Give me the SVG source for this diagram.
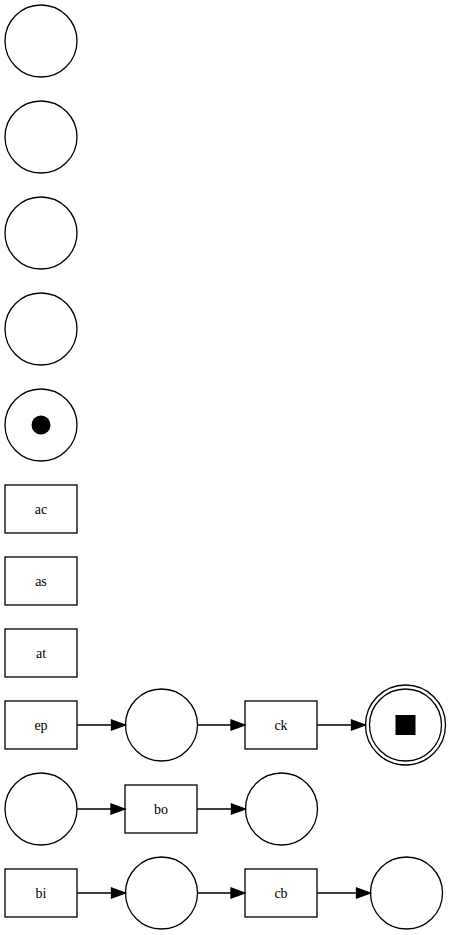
<svg xmlns="http://www.w3.org/2000/svg" width="453" height="935" viewBox="0 0 453 935">
<style>
.p{fill:#fff;stroke:#000;stroke-width:1.3}
.t{fill:#fff;stroke:#000;stroke-width:1.3}
.l{font-family:"Liberation Serif","Times New Roman",serif;font-size:14px;text-anchor:middle;fill:#000}
.e{stroke:#000;stroke-width:1.3;fill:none}
.h{fill:#000;stroke:#000;stroke-width:1.3}
</style>
<rect width="453" height="935" fill="#fff"/>
<g id="p1"><circle class="p" cx="41" cy="41" r="36"/></g>
<g id="p2"><circle class="p" cx="41" cy="137" r="36"/></g>
<g id="p3"><circle class="p" cx="41" cy="233" r="36"/></g>
<g id="p4"><circle class="p" cx="41" cy="329" r="36"/></g>
<g id="p5"><circle class="p" cx="41" cy="425" r="36"/><circle cx="41" cy="425" r="9.5" fill="#000"/></g>
<g id="ac"><rect class="t" x="5" y="485" width="72" height="48"/><text class="l" x="41" y="514">ac</text></g>
<g id="as"><rect class="t" x="5" y="557" width="72" height="48"/><text class="l" x="41" y="586">as</text></g>
<g id="at"><rect class="t" x="5" y="629" width="72" height="48"/><text class="l" x="41" y="658">at</text></g>
<g id="ep"><rect class="t" x="5" y="701" width="72" height="48"/><text class="l" x="41" y="730">ep</text></g>
<g id="p6"><circle class="p" cx="161.5" cy="725" r="36"/></g>
<g id="ck"><rect class="t" x="245" y="701" width="72" height="48"/><text class="l" x="281" y="730">ck</text></g>
<g id="pend"><circle class="p" cx="405.5" cy="725" r="40"/><circle class="p" cx="405.5" cy="725" r="36"/><rect x="395.5" y="715" width="20" height="20" fill="#000"/></g>
<g id="p7"><circle class="p" cx="41" cy="809" r="36"/></g>
<g id="bo"><rect class="t" x="125" y="785" width="72" height="48"/><text class="l" x="161" y="814">bo</text></g>
<g id="p8"><circle class="p" cx="281.5" cy="809" r="36"/></g>
<g id="bi"><rect class="t" x="5" y="869" width="72" height="48"/><text class="l" x="41" y="898">bi</text></g>
<g id="p9"><circle class="p" cx="161.5" cy="893" r="36"/></g>
<g id="cb"><rect class="t" x="245" y="869" width="72" height="48"/><text class="l" x="281" y="898">cb</text></g>
<g id="p10"><circle class="p" cx="406.5" cy="893" r="36"/></g>
<g id="edges">
<path class="e" d="M77,725H112"/><polygon class="h" points="125.5,725 111.5,720 111.5,730"/>
<path class="e" d="M197.5,725H232"/><polygon class="h" points="245,725 231,720 231,730"/>
<path class="e" d="M317,725H352"/><polygon class="h" points="365.5,725 351.5,720 351.5,730"/>
<path class="e" d="M77,809H112"/><polygon class="h" points="125,809 111,804 111,814"/>
<path class="e" d="M197,809H232"/><polygon class="h" points="245.5,809 231.5,804 231.5,814"/>
<path class="e" d="M77,893H112"/><polygon class="h" points="125.5,893 111.5,888 111.5,898"/>
<path class="e" d="M197.5,893H232"/><polygon class="h" points="245,893 231,888 231,898"/>
<path class="e" d="M317,893H357"/><polygon class="h" points="370.5,893 356.5,888 356.5,898"/>
</g>
</svg>
